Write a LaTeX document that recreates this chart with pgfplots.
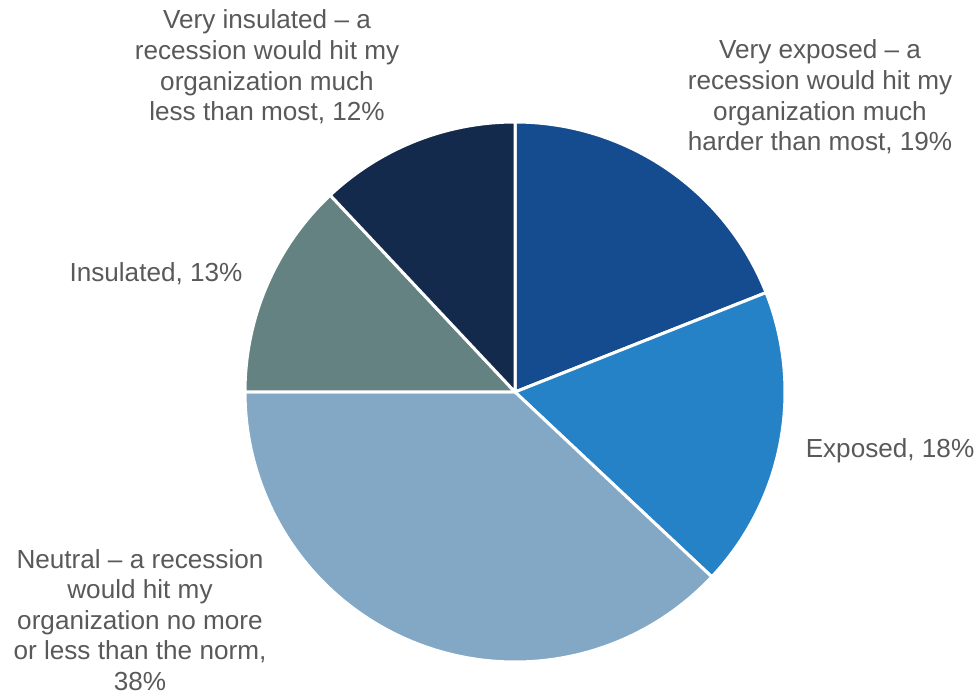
\documentclass[border=0pt]{standalone}
\usepackage{pgfplots}
\pgfplotsset{compat=1.18}
\usepackage{pgfplotstable}
\usepackage{fontspec}
\setmainfont{Liberation Sans}
\definecolor{vexp}{HTML}{154C8F}
\definecolor{exps}{HTML}{2682C6}
\definecolor{neut}{HTML}{82A8C6}
\definecolor{insu}{HTML}{658283}
\definecolor{vins}{HTML}{142A4D}
\definecolor{txt}{HTML}{595959}
\pgfplotstableread{
idx value color
0 19 vexp
1 18 exps
2 38 neut
3 13 insu
4 12 vins
}\piedata
\begin{document}
\begin{tikzpicture}
\begin{axis}[x=0.75pt,y=0.75pt,xmin=0,xmax=977,ymin=0,ymax=696,
  hide axis,clip=false,scale only axis]
\gdef\cum{0}
\pgfplotsinvokeforeach{0,...,4}{
  \pgfplotstablegetelem{#1}{value}\of\piedata \let\val\pgfplotsretval
  \pgfplotstablegetelem{#1}{color}\of\piedata \let\col\pgfplotsretval
  \pgfmathsetmacro\angA{90-3.6*\cum}
  \pgfmathsetmacro\newcum{\cum+\val}
  \pgfmathsetmacro\angB{90-3.6*\newcum}
  \global\let\cum\newcum
  \edef\temp{\noexpand\addplot[fill=\col,draw=white,line width=2.25pt,line join=round,
    domain=\angB:\angA,samples=90,variable=\noexpand\t]
    ({515+270*cos(\noexpand\t)},{304+270*sin(\noexpand\t)}) -- (axis cs:515,304) -- cycle;}
  \temp
}
\tikzset{lab/.style={align=center,text=txt,font=\fontsize{19.6}{22.9}\selectfont,inner sep=0pt}}
\node[lab] at (axis cs:267,629) {Very insulated – a\\recession would hit my\\organization much\\less than most, 12\%};
\node[lab] at (axis cs:820,599) {Very exposed – a\\recession would hit my\\organization much\\harder than most, 19\%};
\node[lab] at (axis cs:156,422) {Insulated, 13\%};
\node[lab] at (axis cs:890,245) {Exposed, 18\%};
\node[lab] at (axis cs:140,76) {Neutral – a recession\\would hit my\\organization no more\\or less than the norm,\\38\%};
\end{axis}
\pgfresetboundingbox
\path (0,0) rectangle (732.75pt,522pt);
\end{tikzpicture}
\end{document}
